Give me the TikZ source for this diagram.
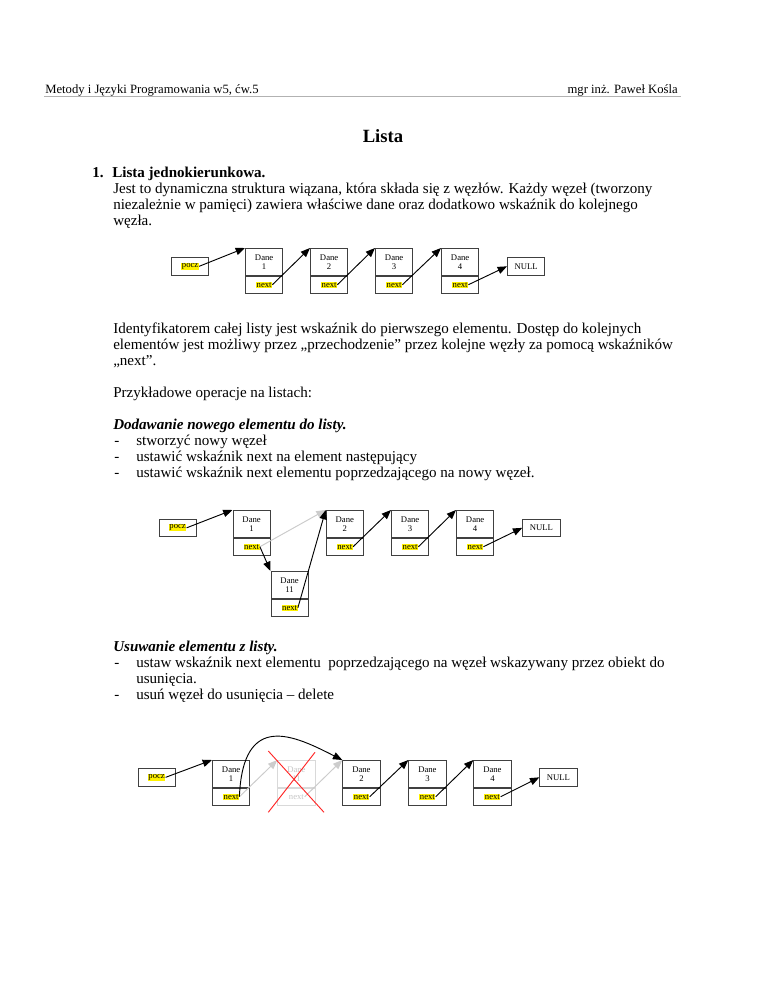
\documentclass[tikz,border=0pt]{standalone}
\usepackage{fontspec}
\setmainfont{Liberation Serif}
\usetikzlibrary{positioning,arrows.meta}

\tikzset{
  headtxt/.style={font=\fontsize{9.5}{10}\selectfont, inner sep=0pt},
  bodytxt/.style={font=\fontsize{11.3}{12}\selectfont, inner sep=0pt, anchor=mid west},
  dane/.style={draw=black!75, line width=0.7pt, minimum width=28pt, minimum height=20pt,
    anchor=north west, align=center, inner sep=0pt, font=\fontsize{6.5}{6.7}\selectfont},
  ptrbox/.style={draw=black!75, line width=0.7pt, minimum width=28pt, minimum height=13pt, inner sep=0pt},
  cellbox/.style={draw=black!75, line width=0.7pt, minimum width=28pt, minimum height=13.3pt,
    anchor=north west, inner sep=0pt, font=\fontsize{6.5}{6.7}\selectfont},
  hilite/.style={fill=yellow, inner sep=0.4pt, font=\fontsize{6.5}{6.7}\selectfont},
  ptrarrow/.style={-{Triangle[length=7pt,width=5.5pt]}, line width=0.7pt},
  oldarrow/.style={ptrarrow, draw=gray!40, fill=gray!40},
}

% one list element: name, x, y (top left), number
\newcommand{\elem}[4]{%
  \node[dane] (#1) at (#2,#3) {Dane\\#4};
  \node[ptrbox, below=0pt of #1] (#1p) {};
  \node[hilite] (#1n) at (#1p) {next};
}

\begin{document}
\begin{tikzpicture}[x=0.75pt,y=-0.75pt]
  \fill[white] (0,0) rectangle (768,994);
  \useasboundingbox (0,0) rectangle (768,994);

  % header
  \node[headtxt, anchor=mid west] (hdleft) at (45,90) {Metody i Języki Programowania w5, ćw.5};
  \node[headtxt, anchor=mid east] (hdright) at (678,90) {mgr inż. Paweł Kośla};
  \draw[gray!60, line width=1.3pt] (44,96.5) -- (681,96.5);

  % title
  \node[font=\fontsize{14}{15}\selectfont\bfseries, inner sep=0pt] (title) at (383,136) {Lista};

  % section 1
  \node[bodytxt, font=\fontsize{11.3}{12}\selectfont\bfseries] (num1) at (92,174) {1.};
  \node[bodytxt, font=\fontsize{11.3}{12}\selectfont\bfseries] (sec1) at (112,174) {Lista jednokierunkowa.};
  \node[bodytxt] (t1) at (113,190) {Jest to dynamiczna struktura wiązana, która składa się z węzłów. Każdy węzeł (tworzony};
  \node[bodytxt] (t2) at (113,206) {niezależnie w pamięci) zawiera właściwe dane oraz dodatkowo wskaźnik do kolejnego};
  \node[bodytxt] (t3) at (113,222) {węzła.};

  % list 1
  \node[cellbox] (pa) at (171,257) {};
  \node[hilite] (pat) at (pa) {pocz};
  \elem{a1}{245}{248}{1}
  \elem{a2}{310}{248}{2}
  \elem{a3}{375}{248}{3}
  \elem{a4}{441}{248}{4}
  \node[cellbox] (nulla) at (507,257) {NULL};
  \draw[ptrarrow] (pat.east) -- (a1.north west);
  \draw[ptrarrow] (a1n.east) -- (a2.north west);
  \draw[ptrarrow] (a2n.east) -- (a3.north west);
  \draw[ptrarrow] (a3n.east) -- (a4.north west);
  \draw[ptrarrow] (a4n.east) -- (nulla.west);

  % text between lists
  \node[bodytxt] (t4) at (113,330) {Identyfikatorem całej listy jest wskaźnik do pierwszego elementu. Dostęp do kolejnych};
  \node[bodytxt] (t5) at (113,346) {elementów jest możliwy przez „przechodzenie” przez kolejne węzły za pomocą wskaźników};
  \node[bodytxt] (t6) at (113,362) {„next”.};
  \node[bodytxt] (t7) at (113,394) {Przykładowe operacje na listach:};
  \node[bodytxt, font=\fontsize{11.3}{12}\selectfont\bfseries\itshape] (add) at (113,426) {Dodawanie nowego elementu do listy.};
  \node[bodytxt] (d1) at (114,442) {-};
  \node[bodytxt] (t8) at (136,442) {stworzyć nowy węzeł};
  \node[bodytxt] (d2) at (114,458) {-};
  \node[bodytxt] (t9) at (136,458) {ustawić wskaźnik next na element następujący};
  \node[bodytxt] (d3) at (114,474) {-};
  \node[bodytxt] (t10) at (136,474) {ustawić wskaźnik next elementu poprzedzającego na nowy węzeł.};

  % list 2 (insert)
  \node[cellbox] (pb) at (158.5,518.5) {};
  \node[hilite] (pbt) at (pb) {pocz};
  \elem{b1}{232.5}{510}{1}
  \elem{b2}{325.7}{510}{2}
  \elem{b3}{391}{510}{3}
  \elem{b4}{456}{510}{4}
  \elem{b11}{270.5}{571}{11}
  \node[cellbox] (nullb) at (522.3,518.5) {NULL};
  \draw[ptrarrow] (pbt.east) -- (b1.north west);
  \draw[oldarrow] (b1n.east) -- (b2.north west);
  \draw[ptrarrow] (b1n.east) -- (b11.north west);
  \draw[ptrarrow] (b11n.east) -- (b2.north west);
  \draw[ptrarrow] (b2n.east) -- (b3.north west);
  \draw[ptrarrow] (b3n.east) -- (b4.north west);
  \draw[ptrarrow] (b4n.east) -- (nullb.west);

  % text before list 3
  \node[bodytxt, font=\fontsize{11.3}{12}\selectfont\bfseries\itshape] (del) at (113,648) {Usuwanie elementu z listy.};
  \node[bodytxt] (d4) at (114,664) {-};
  \node[bodytxt] (t11) at (136,664) {ustaw wskaźnik next elementu \ poprzedzającego na węzeł wskazywany przez obiekt do};
  \node[bodytxt] (t12) at (136,680) {usunięcia.};
  \node[bodytxt] (d5) at (114,696) {-};
  \node[bodytxt] (t13) at (136,696) {usuń węzeł do usunięcia – delete};

  % list 3 (delete)
  \node[cellbox] (pc) at (137.5,768) {};
  \node[hilite] (pct) at (pc) {pocz};
  \elem{c1}{212}{760}{1}
  % removed element
  \node[dane, draw=gray!30, text=gray!45] (cx) at (277.3,760) {Dane\\11};
  \node[ptrbox, draw=gray!30, below=0pt of cx] (cxp) {};
  \node[inner sep=0.4pt, text=gray!45, font=\fontsize{6.5}{6.7}\selectfont] (cxn) at (cxp) {next};
  \elem{c2}{342.3}{760}{2}
  \elem{c3}{408.3}{760}{3}
  \elem{c4}{473.3}{760}{4}
  \node[cellbox] (nullc) at (539.3,768) {NULL};
  \draw[ptrarrow] (pct.east) -- (c1.north west);
  \draw[oldarrow] (c1n.east) -- (cx.north west);
  \draw[oldarrow] (cxn.east) -- (c2.north west);
  \draw[ptrarrow] (c1n.east) .. controls (243,710) and (295,736) .. (c2.north west);
  \draw[ptrarrow] (c2n.east) -- (c3.north west);
  \draw[ptrarrow] (c3n.east) -- (c4.north west);
  \draw[ptrarrow] (c4n.east) -- (nullc.west);
  % cross over removed element
  \draw[red!85, line width=0.7pt] (268.3,751) -- (324,812.3);
  \draw[red!85, line width=0.7pt] (315,752.3) -- (268.3,812.3);
\end{tikzpicture}
\end{document}
